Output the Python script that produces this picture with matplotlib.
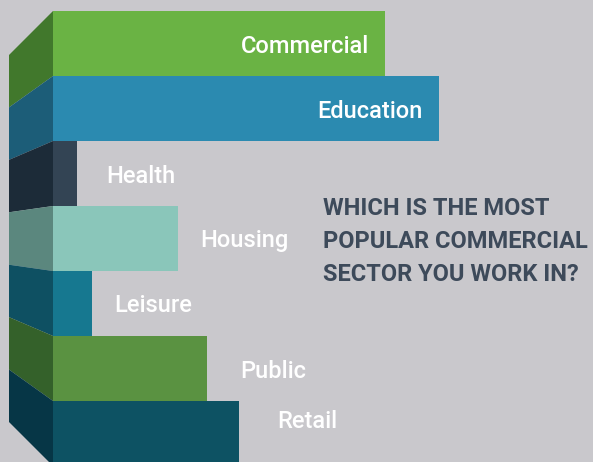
import matplotlib
matplotlib.use("Agg")
import matplotlib.pyplot as plt
from matplotlib.patches import Polygon

categories = ["Commercial", "Education", "Health", "Housing", "Leisure", "Public", "Retail"]
values = [26.7, 31.0, 1.9, 10.0, 3.1, 12.4, 14.9]
front_colors = ["#6ab344", "#2b8ab0", "#334454", "#8ac6ba", "#167890", "#5a9241", "#0d5263"]
side_colors = ["#41782c", "#1c5d78", "#1c2b38", "#5b877e", "#0e5062", "#34612a", "#063646"]
title_lines = ["WHICH IS THE MOST", "POPULAR COMMERCIAL", "SECTOR YOU WORK IN?"]

W, H, DPI = 593, 462, 100
BG = "#c9c8cc"
PX_PER_UNIT = 12.45
X0_PX = 53.0
ROW_PX = 65.0
Y0_PX = 43.5

fig = plt.figure(figsize=(W / DPI, H / DPI), dpi=DPI, facecolor=BG)
ax = fig.add_axes([0, 0, 1, 1])
ax.set_facecolor(BG)
ax.set_xlim(-X0_PX / PX_PER_UNIT, (W - X0_PX) / PX_PER_UNIT)
ax.set_ylim((H - Y0_PX) / ROW_PX, -Y0_PX / ROW_PX)
ax.axis("off")

n = len(categories)
ypos = list(range(n))
ax.barh(ypos, values, height=1.0, left=0, color=front_colors, edgecolor="none", zorder=2)

# perspective side faces
xs = (9 - X0_PX) / PX_PER_UNIT
center = (n - 1) / 2.0
scale = 0.8066
for i in range(n):
    top_f, bot_f = i - 0.5, i + 0.5
    top_b = center + (top_f - center) * scale
    bot_b = center + (bot_f - center) * scale
    poly = Polygon([(0, top_f), (0, bot_f), (xs, bot_b), (xs, top_b)], closed=True,
                   facecolor=side_colors[i], edgecolor="none", zorder=2)
    ax.add_patch(poly)

# labels (pixel positions: x, baseline y, alignment)
label_layout = [(369, 53, "right"), (423, 118, "right"), (106, 183, "left"), (200, 247, "left"),
                (114, 312, "left"), (240, 378, "left"), (277, 428, "left")]
for name, (px, py, ha) in zip(categories, label_layout):
    fig.text(px / W, 1 - py / H, name, color="white", fontsize=17, family="Roboto",
             fontweight="medium", ha=ha, va="baseline", zorder=5)

for k, line in enumerate(title_lines):
    fig.text(323 / W, 1 - (215 + 32.8 * k) / H, line, color="#3d4a5a", fontsize=17,
             family="Roboto", fontweight="bold", ha="left", va="baseline")

fig.savefig("out.png", dpi=DPI, facecolor=BG)
